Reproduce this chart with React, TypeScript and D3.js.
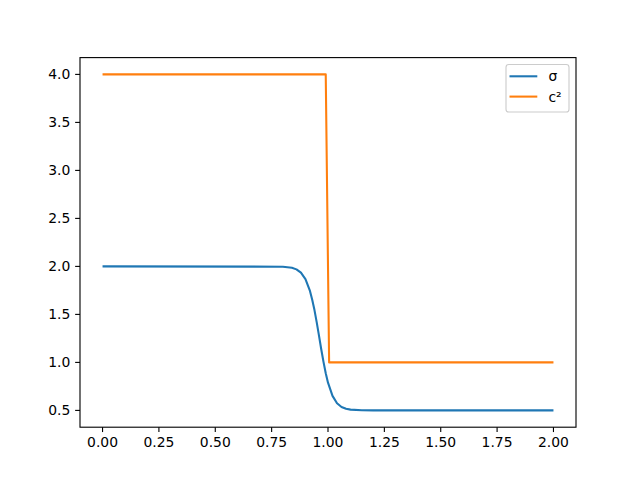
import React from "react";
import * as d3 from "d3";

const sigmaX = [0, 0.8, 0.84, 0.86, 0.88, 0.9, 0.92, 0.93, 0.94, 0.95, 0.96, 0.97, 0.98, 0.99, 1.0, 1.02, 1.04, 1.06, 1.08, 1.1, 1.15, 1.2, 2.0];
const sigmaY = [2.0, 1.997, 1.985, 1.969, 1.935, 1.868, 1.744, 1.653, 1.545, 1.417, 1.279, 1.137, 1.005, 0.887, 0.789, 0.651, 0.575, 0.536, 0.517, 0.508, 0.502, 0.5, 0.5];
const c2X = [0, 0.99, 1.005, 2.0];
const c2Y = [4, 4, 1, 1];
const xTicks = [0, 0.25, 0.5, 0.75, 1.0, 1.25, 1.5, 1.75, 2.0];
const yTicks = [0.5, 1.0, 1.5, 2.0, 2.5, 3.0, 3.5, 4.0];
const seriesNames = ["σ", "c²"];
const colors = ["#1f77b4", "#ff7f0e"];

export default function App() {
  const W = 640, H = 480;
  const L = 80, R = 576, T = 57.6, B = 427.2;
  const fs = 13.9;
  const tick = 4.86;
  const x = d3.scaleLinear().domain([-0.1, 2.1]).range([L, R]);
  const y = d3.scaleLinear().domain([0.5 - 0.175, 4.0 + 0.175]).range([B, T]);
  const line = d3.line<[number, number]>().x(d => x(d[0])).y(d => y(d[1]));
  const sig = line(sigmaX.map((v, i) => [v, sigmaY[i]]) as [number, number][]);
  const c2 = line(c2X.map((v, i) => [v, c2Y[i]]) as [number, number][]);
  const font = "DejaVu Sans, sans-serif";
  const rowY = [76.3, 96.6];
  return (
    <svg width={W} height={H} style={{ position: "absolute", left: 0, top: 0 }} fontFamily={font}>
      <rect x={0} y={0} width={W} height={H} fill="#fff" />
      <path d={sig ?? ""} fill="none" stroke={colors[0]} strokeWidth={2.08} strokeLinejoin="round" />
      <path d={c2 ?? ""} fill="none" stroke={colors[1]} strokeWidth={2.08} strokeLinejoin="round" />
      <rect x={L} y={T} width={R - L} height={B - T} fill="none" stroke="#000" strokeWidth={1.11} />
      {xTicks.map(t => (
        <g key={"x" + t}>
          <line x1={x(t)} x2={x(t)} y1={B} y2={B + tick} stroke="#000" strokeWidth={1.11} />
          <text x={x(t)} y={B + 2 * tick + 10.3} fontSize={fs} textAnchor="middle" fill="#000">{t.toFixed(2)}</text>
        </g>
      ))}
      {yTicks.map(t => (
        <g key={"y" + t}>
          <line x1={L - tick} x2={L} y1={y(t)} y2={y(t)} stroke="#000" strokeWidth={1.11} />
          <text x={L - 2 * tick} y={y(t) + 5} fontSize={fs} textAnchor="end" fill="#000">{t.toFixed(1)}</text>
        </g>
      ))}
      <rect x={506} y={64.5} width={63} height={47.5} rx={2.8} fill="#fff" fillOpacity={0.8} stroke="#ccc" strokeWidth={1.11} />
      {seriesNames.map((n, i) => (
        <g key={n}>
          <line x1={509.5} x2={537.3} y1={rowY[i]} y2={rowY[i]} stroke={colors[i]} strokeWidth={2.08} />
          <text x={548.4} y={rowY[i] + 5} fontSize={fs} fill="#000">{n}</text>
        </g>
      ))}
    </svg>
  );
}
